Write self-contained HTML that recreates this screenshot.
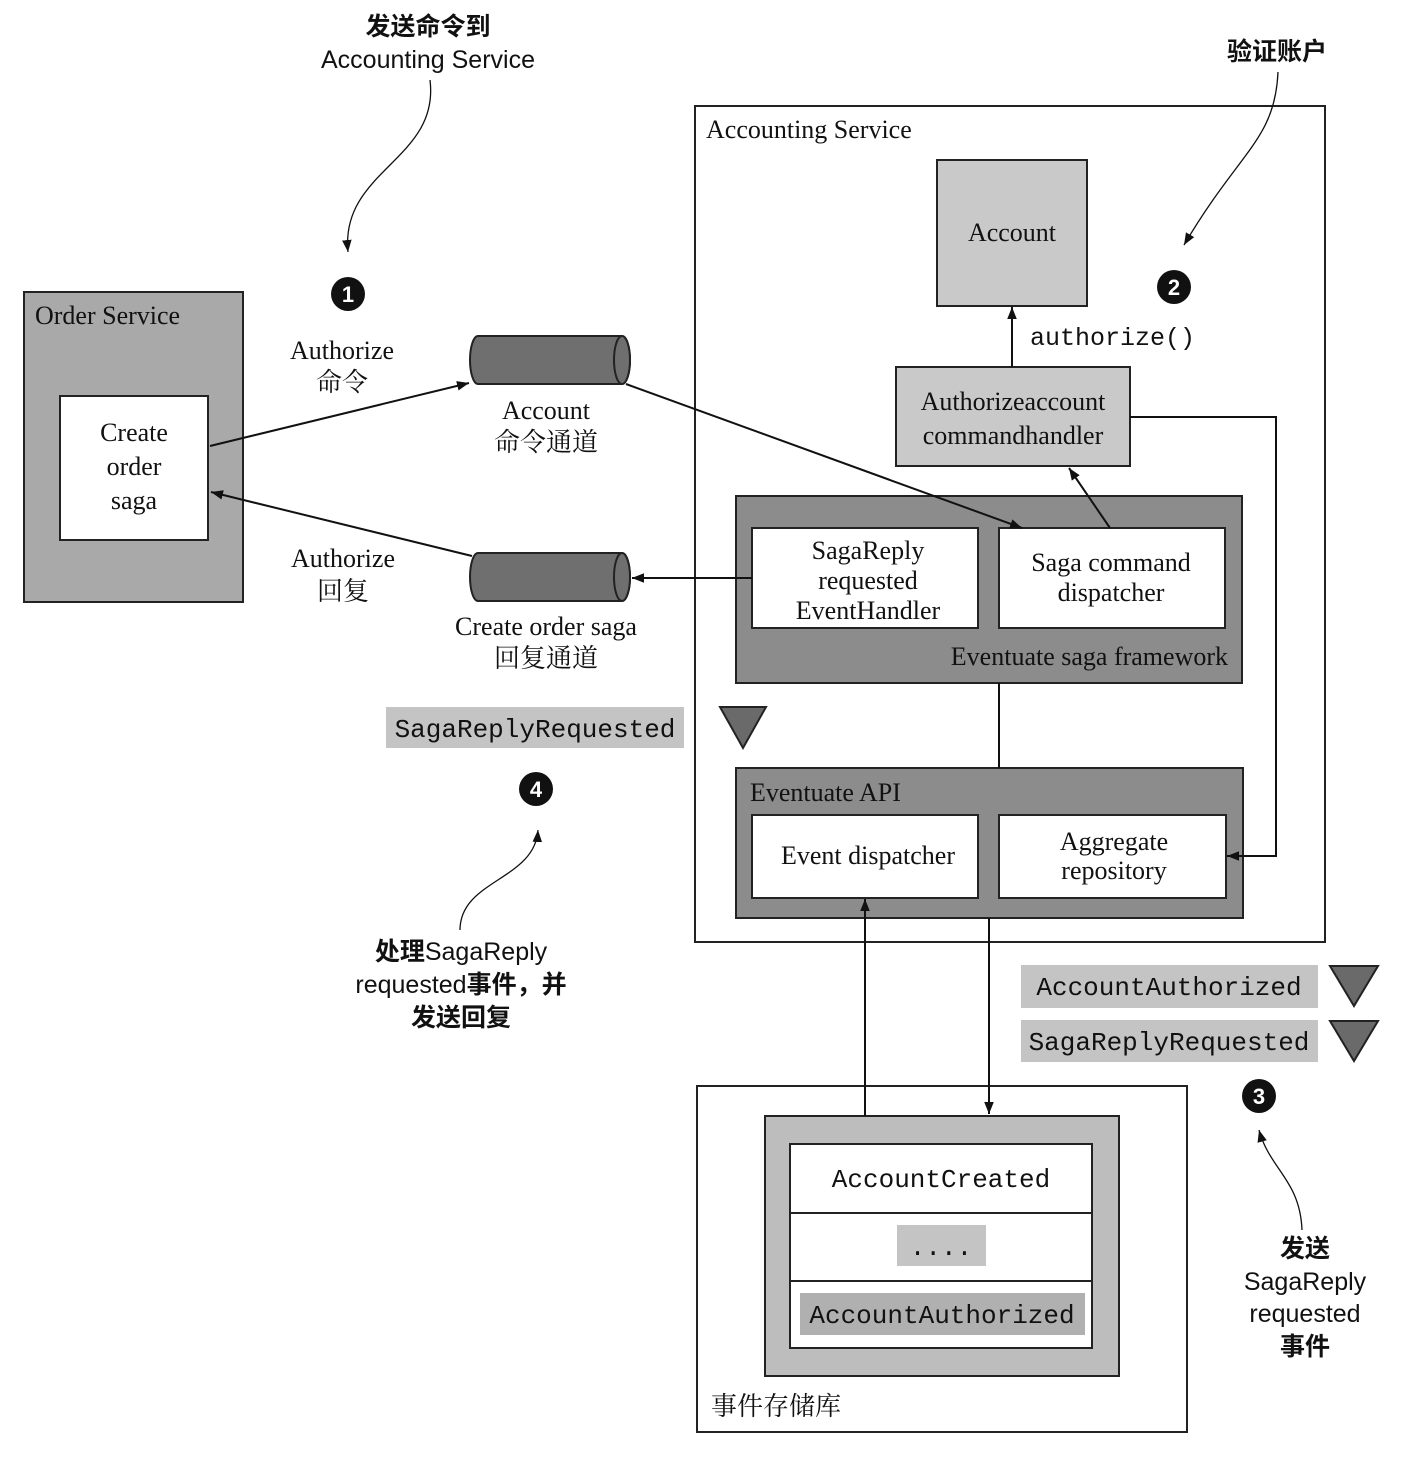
<!DOCTYPE html>
<html><head><meta charset="utf-8"><style>
html,body{margin:0;padding:0;background:#fff;}
svg{display:block;}
.serif{font-family:"Liberation Serif","Noto Serif CJK SC",serif;}
.sans{font-family:"Liberation Sans","Noto Sans CJK SC",sans-serif;}
.mono{font-family:"Liberation Mono","Noto Sans CJK SC",monospace;}
</style></head><body>
<svg width="1404" height="1464" viewBox="0 0 1404 1464" xmlns="http://www.w3.org/2000/svg">
<defs>
<marker id="ah" viewBox="0 0 10 10" refX="10" refY="5" markerWidth="12" markerHeight="12" markerUnits="userSpaceOnUse" orient="auto">
<path d="M0,1 L10,5 L0,9 z" fill="#111"/></marker>
</defs>
<g stroke="#222" stroke-width="2" fill="none">
<rect x="24" y="292" width="219" height="310" fill="#a9a9a9"/>
<rect x="60" y="396" width="148" height="144" fill="#fff"/>
<rect x="695" y="106" width="630" height="836" fill="#fff"/>
<rect x="937" y="160" width="150" height="146" fill="#c9c9c9"/>
<rect x="896" y="367" width="234" height="99" fill="#c9c9c9"/>
<rect x="736" y="496" width="506" height="187" fill="#8c8c8c"/>
<rect x="752" y="528" width="226" height="100" fill="#fff"/>
<rect x="999" y="528" width="226" height="100" fill="#fff"/>
<rect x="736" y="768" width="507" height="150" fill="#8c8c8c"/>
<rect x="752" y="815" width="226" height="83" fill="#fff"/>
<rect x="999" y="815" width="227" height="83" fill="#fff"/>
<rect x="697" y="1086" width="490" height="346" fill="#fff"/>
<rect x="765" y="1116" width="354" height="260" fill="#bdbdbd"/>
<rect x="790" y="1144" width="302" height="204" fill="#fff"/>
<line x1="790" y1="1213" x2="1092" y2="1213"/>
<line x1="790" y1="1281" x2="1092" y2="1281"/>
</g>
<rect x="897" y="1225" width="89" height="41" fill="#c4c4c4"/>
<rect x="800" y="1293" width="285" height="42" fill="#b0b0b0"/>
<g stroke="#222" stroke-width="2" fill="#6f6f6f">
<path d="M478,336 L622,336 A8,24 0 0 1 622,384 L478,384 A8,24 0 0 1 478,336 z"/>
<ellipse cx="622" cy="360" rx="8" ry="24"/>
<path d="M478,553 L622,553 A8,24 0 0 1 622,601 L478,601 A8,24 0 0 1 478,553 z"/>
<ellipse cx="622" cy="577" rx="8" ry="24"/>
</g>
<g stroke="#111" stroke-width="2" fill="none">
<line x1="210" y1="446" x2="469" y2="383" marker-end="url(#ah)"/>
<line x1="472" y1="556" x2="211" y2="492" marker-end="url(#ah)"/>
<line x1="626" y1="384" x2="1022" y2="528" marker-end="url(#ah)"/>
<line x1="752" y1="578" x2="632" y2="578" marker-end="url(#ah)"/>
<line x1="1110" y1="528" x2="1069" y2="468" marker-end="url(#ah)"/>
<line x1="1012" y1="367" x2="1012" y2="307" marker-end="url(#ah)"/>
<polyline points="1130,417 1276,417 1276,856 1227,856" marker-end="url(#ah)"/>
<line x1="999" y1="683" x2="999" y2="768"/>
<line x1="865" y1="1116" x2="865" y2="899" marker-end="url(#ah)"/>
<line x1="989" y1="918" x2="989" y2="1114" marker-end="url(#ah)"/>
<path d="M430,80 C440,160 340,170 348,252" stroke-width="1.3" marker-end="url(#ah)"/>
<path d="M1278,72 C1275,140 1240,150 1184,245" stroke-width="1.3" marker-end="url(#ah)"/>
<path d="M460,930 C460,880 535,880 538,830" stroke-width="1.3" marker-end="url(#ah)"/>
<path d="M1302,1230 C1300,1180 1270,1170 1259,1130" stroke-width="1.3" marker-end="url(#ah)"/>
</g>
<rect x="386" y="707" width="298" height="41" fill="#c4c4c4"/>
<rect x="1021" y="965" width="297" height="43" fill="#c4c4c4"/>
<rect x="1021" y="1020" width="297" height="42" fill="#c4c4c4"/>
<g fill="#6a6a6a" stroke="#222" stroke-width="2">
<path d="M720,707 L766,707 L743,748 z"/>
<path d="M1330,966 L1378,966 L1354,1006 z"/>
<path d="M1330,1021 L1378,1021 L1354,1061 z"/>
</g>
<g fill="#111">
<circle cx="348" cy="294" r="17"/><circle cx="1174" cy="287" r="17"/>
<circle cx="1259" cy="1096" r="17"/><circle cx="536" cy="789" r="17"/>
</g>
<g fill="#fff" class="sans" font-size="22" font-weight="bold" text-anchor="middle">
<text x="348" y="302">1</text><text x="1174" y="295">2</text>
<text x="1259" y="1104">3</text><text x="536" y="797">4</text>
</g>
<g class="serif" font-size="26" fill="#111">
<text x="35" y="324">Order Service</text>
<text x="134" y="441" text-anchor="middle">Create</text>
<text x="134" y="475" text-anchor="middle">order</text>
<text x="134" y="509" text-anchor="middle">saga</text>
<text x="342" y="359" text-anchor="middle">Authorize</text>
<text x="342" y="391" text-anchor="middle">命令</text>
<text x="546" y="419" text-anchor="middle">Account</text>
<text x="546" y="451" text-anchor="middle">命令通道</text>
<text x="343" y="567" text-anchor="middle">Authorize</text>
<text x="343" y="600" text-anchor="middle">回复</text>
<text x="546" y="635" text-anchor="middle">Create order saga</text>
<text x="546" y="667" text-anchor="middle">回复通道</text>
<text x="706" y="138">Accounting Service</text>
<text x="1012" y="241" text-anchor="middle">Account</text>
<text x="1013" y="410" text-anchor="middle">Authorizeaccount</text>
<text x="1013" y="444" text-anchor="middle">commandhandler</text>
<text x="868" y="559" text-anchor="middle">SagaReply</text>
<text x="868" y="589" text-anchor="middle">requested</text>
<text x="868" y="619" text-anchor="middle">EventHandler</text>
<text x="1111" y="571" text-anchor="middle">Saga command</text>
<text x="1111" y="601" text-anchor="middle">dispatcher</text>
<text x="1228" y="665" text-anchor="end">Eventuate saga framework</text>
<text x="750" y="801">Eventuate API</text>
<text x="868" y="864" text-anchor="middle">Event dispatcher</text>
<text x="1114" y="850" text-anchor="middle">Aggregate</text>
<text x="1114" y="879" text-anchor="middle">repository</text>
<text x="711" y="1415">事件存储库</text>
</g>
<g class="mono" font-size="26" fill="#111">
<text x="1030" y="345" font-size="25">authorize()</text>
<text x="535" y="737" text-anchor="middle">SagaReplyRequested</text>
<text x="1169" y="995" text-anchor="middle">AccountAuthorized</text>
<text x="1169" y="1050" text-anchor="middle">SagaReplyRequested</text>
<text x="941" y="1187" text-anchor="middle">AccountCreated</text>
<text x="941" y="1255" text-anchor="middle">....</text>
<text x="942" y="1323" text-anchor="middle">AccountAuthorized</text>
</g>
<g class="sans" font-size="25" fill="#111" text-anchor="middle">
<text x="428" y="35" font-weight="bold">发送命令到</text>
<text x="428" y="68">Accounting Service</text>
<text x="1277" y="60" font-weight="bold">验证账户</text>
<text x="461" y="960"><tspan font-weight="bold">处理</tspan>SagaReply</text>
<text x="461" y="993">requested<tspan font-weight="bold">事件，并</tspan></text>
<text x="461" y="1026" font-weight="bold">发送回复</text>
<text x="1305" y="1257" font-weight="bold">发送</text>
<text x="1305" y="1290">SagaReply</text>
<text x="1305" y="1322">requested</text>
<text x="1305" y="1355" font-weight="bold">事件</text>
</g>
</svg>
</body></html>
